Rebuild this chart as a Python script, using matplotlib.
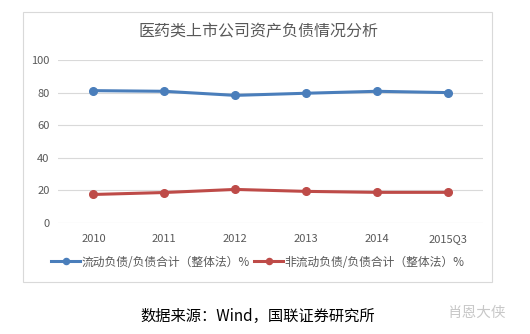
import matplotlib.pyplot as plt
from matplotlib.patches import Rectangle

plt.rcParams['font.family'] = ['Noto Sans CJK SC', 'DejaVu Sans']

# 数据
years = ['2010', '2011', '2012', '2013', '2014', '2015Q3']
current_ratio = [81.2, 80.8, 78.3, 79.6, 80.8, 80.0]
noncurrent_ratio = [17.5, 18.7, 20.6, 19.4, 18.8, 18.8]
yticks = [0, 20, 40, 60, 80, 100]

fig = plt.figure(figsize=(5.3, 3.34), dpi=100)
W, H = 530, 334

# 外框
fig.patches.append(Rectangle((23 / W, 1 - 282 / H), 469 / W, 270 / H,
                             transform=fig.transFigure, fill=False,
                             edgecolor='#d9d9d9', linewidth=0.8))

ax = fig.add_axes([58 / W, 1 - 223 / H, 425 / W, 163 / H])
x = range(len(years))
ax.plot(x, current_ratio, color='#4a7ebb', linewidth=2.2, marker='o',
        markersize=5.5, label='流动负债/负债合计（整体法）%')
ax.plot(x, noncurrent_ratio, color='#be4b48', linewidth=2.2, marker='o',
        markersize=5.5, label='非流动负债/负债合计（整体法）%')

ax.set_xlim(-0.5, len(years) - 0.5)
ax.set_ylim(0, 100)
ax.set_yticks(yticks)
ax.set_xticks(list(x))
ax.set_xticklabels(years)
ax.grid(axis='y', color='#d9d9d9', linewidth=0.8)
ax.set_axisbelow(True)
for s in ax.spines.values():
    s.set_visible(False)
ax.tick_params(length=0, labelsize=8, colors='#595959', pad=6)
ax.tick_params(axis='x', pad=8)

fig.text(259 / W, 1 - 32 / H, '医药类上市公司资产负债情况分析', ha='center', va='center',
         fontsize=11.5, color='#595959', fontweight='light')

fig.legend(loc='center', bbox_to_anchor=(258 / W, 1 - 262 / H), ncol=2,
           frameon=False, fontsize=8.5, handlelength=2.4, handletextpad=0.15,
           columnspacing=0.4, labelcolor='#595959', markerscale=0.8)

fig.text(258 / W, 1 - 316 / H, '数据来源：Wind，国联证券研究所', ha='center', va='center',
         fontsize=11, color='black')
fig.text(477 / W, 1 - 313 / H, '肖恩大侠', ha='center', va='center',
         fontsize=10.5, color='#c8c8c8')

fig.savefig('out.png', dpi=100)
